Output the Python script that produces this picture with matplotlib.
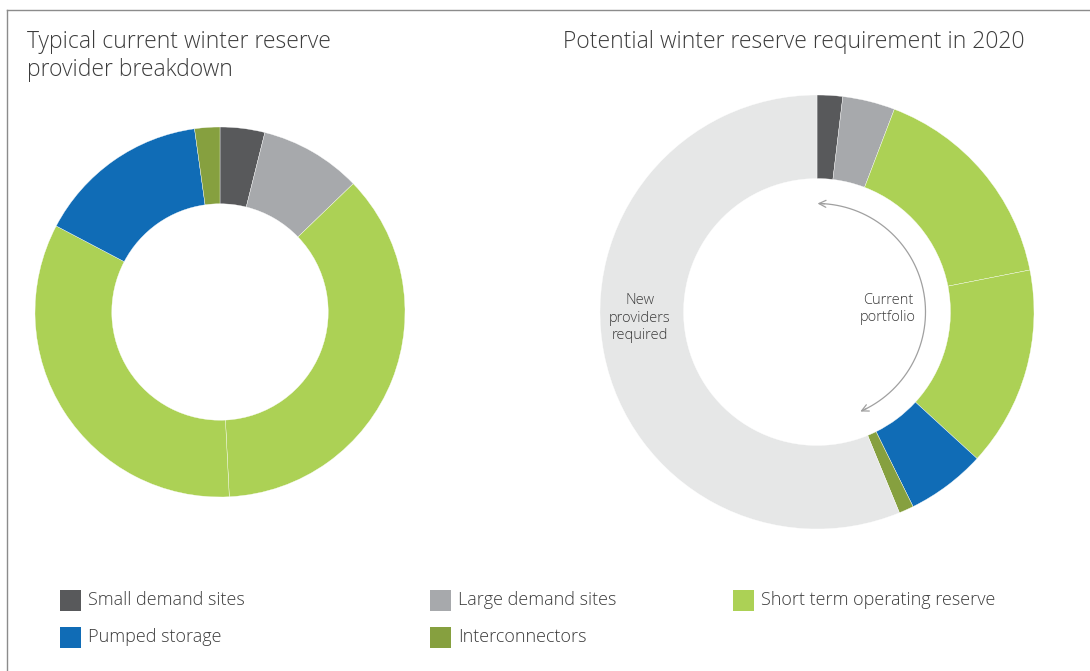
import numpy as np
import matplotlib.pyplot as plt
from matplotlib.patches import Rectangle
from matplotlib.lines import Line2D

# categories and colours
categories = ["Small demand sites", "Large demand sites", "Short term operating reserve",
              "Pumped storage", "Interconnectors"]
colors = ["#58595b", "#a7a9ac", "#acd155", "#106cb6", "#86a03f"]
new_color = "#e6e7e7"

# current breakdown (%), STOR shown as two blocks
current_labels = ["Small demand sites", "Large demand sites", "Short term operating reserve",
                  "Short term operating reserve", "Pumped storage", "Interconnectors"]
current_values = [3.9, 8.9, 36.4, 33.5, 15.1, 2.2]

# 2020 requirement (%), last block = new providers required
future_labels = current_labels + ["New providers required"]
future_values = [1.9, 3.9, 16.1, 14.9, 5.9, 1.1, 56.2]

FONT = ["Open Sans", "DejaVu Sans"]
TXT = "#3c3c3c"
W, H = 1090, 671

fig = plt.figure(figsize=(W / 100, H / 100), dpi=100)


def color_of(lbl):
    if lbl in categories:
        return colors[categories.index(lbl)]
    return new_color


def donut(cx, cy, r, width, labels, values):
    ax = fig.add_axes([(cx - r) / W, (H - cy - r) / H, 2 * r / W, 2 * r / H])
    ax.pie(values, colors=[color_of(l) for l in labels], startangle=90,
           counterclock=False, radius=1,
           wedgeprops=dict(width=width, edgecolor="white", linewidth=0.25))
    ax.set_xlim(-1, 1)
    ax.set_ylim(-1, 1)
    ax.set_aspect("equal")
    ax.axis("off")
    return ax


donut(220, 312, 185, 0.415, current_labels, current_values)
ax2 = donut(817, 312, 217, 0.385, future_labels, future_values)

# curved arrow spanning the current portfolio
span = sum(future_values[:-1]) * 3.6
rr = 0.5
th = np.radians(np.linspace(1.5, span - 2.5, 200))
ax2.plot(rr * np.sin(th), rr * np.cos(th), color="#a0a0a0", lw=0.9)
for a0, a1 in [(4, 0.3), (span - 5, span - 1.2)]:
    p0 = np.radians(a0)
    p1 = np.radians(a1)
    ax2.annotate("", xy=(rr * np.sin(p1), rr * np.cos(p1)),
                 xytext=(rr * np.sin(p0), rr * np.cos(p0)),
                 arrowprops=dict(arrowstyle="->,head_length=0.5,head_width=0.25",
                                 color="#a0a0a0", lw=0.9, shrinkA=0, shrinkB=0))

fig.text(888 / W, 1 - 309 / H, "Current\nportfolio", ha="center", va="center",
         fontsize=10.5, color=TXT, family=FONT, weight="light", linespacing=1.25)
fig.text(640 / W, 1 - 318 / H, "New\nproviders\nrequired", ha="center", va="center",
         fontsize=10.5, color=TXT, family=FONT, weight="light", linespacing=1.25)

# titles
fig.text(27 / W, 1 - 30 / H, "Typical current winter reserve\nprovider breakdown",
         ha="left", va="top", fontsize=16.5, color=TXT, family=FONT, weight="light",
         linespacing=1.25)
fig.text(563 / W, 1 - 30 / H, "Potential winter reserve requirement in 2020",
         ha="left", va="top", fontsize=16.5, color=TXT, family=FONT, weight="light")

# legend
leg_pos = [(60, 600), (430, 600), (733, 600), (60, 637), (430, 637)]
for (x, y), lbl, c in zip(leg_pos, categories, colors):
    fig.add_artist(Rectangle((x / W, (H - y - 10.5) / H), 21 / W, 21 / H,
                             transform=fig.transFigure, facecolor=c, edgecolor="none"))
    fig.text((x + 28) / W, 1 - y / H, lbl, ha="left", va="center",
             fontsize=13, color=TXT, family=FONT, weight="light")

# frame lines
fig.add_artist(Line2D([7 / W, 1], [1 - 10 / H, 1 - 10 / H], color="#8c8c8c", lw=1))
fig.add_artist(Line2D([7 / W, 7 / W], [0, 1 - 10 / H], color="#8c8c8c", lw=1))

fig.savefig("out.png", dpi=100)
